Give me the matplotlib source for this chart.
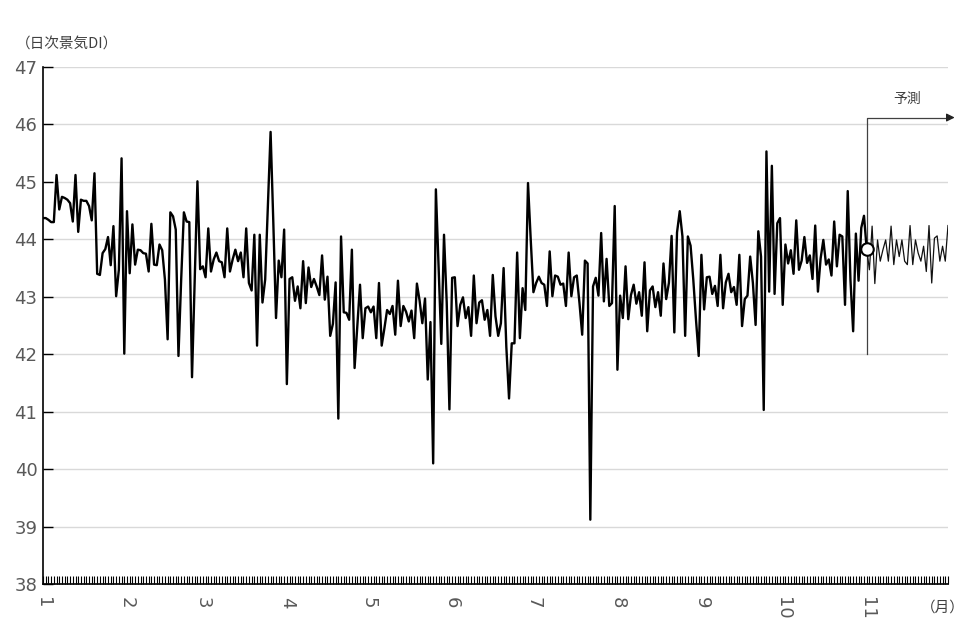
import matplotlib.pyplot as plt
import numpy as np

plt.rcParams['font.family'] = ['DejaVu Sans', 'Noto Sans CJK JP']

# daily DI, Jan 1 .. Nov 1 (actual)
jan = [44.37, 44.37, 44.34, 44.30, 44.30, 45.12, 44.52, 44.74, 44.72, 44.69,
       44.63, 44.31, 45.12, 44.13, 44.69, 44.67, 44.67, 44.58, 44.33, 45.15,
       43.40, 43.38, 43.76, 43.83, 44.04, 43.55, 44.23, 43.01, 43.47, 45.41, 42.01]
feb = [44.49, 43.41, 44.26, 43.56, 43.82, 43.81, 43.76, 43.75, 43.44, 44.27,
       43.56, 43.55, 43.91, 43.81, 43.30, 42.26, 44.47, 44.40, 44.17, 41.97,
       43.30, 44.47, 44.31, 44.30, 41.60, 43.30, 45.01, 43.48]
mar = [43.53, 43.34, 44.19, 43.44, 43.65, 43.77, 43.62, 43.60, 43.34, 44.19,
       43.44, 43.65, 43.82, 43.62, 43.77, 43.34, 44.19, 43.24, 43.11, 44.08,
       42.15, 44.08, 42.90, 43.30, 44.60, 45.87, 44.30, 42.63, 43.63, 43.34, 44.17]
apr = [41.48, 43.31, 43.34, 42.93, 43.18, 42.80, 43.62, 42.89, 43.51, 43.17,
       43.31, 43.18, 43.03, 43.72, 42.95, 43.35, 42.32, 42.53, 43.25, 40.88,
       44.05, 42.73, 42.72, 42.60, 43.82, 41.76, 42.50, 43.21, 42.28, 42.80]
may = [42.83, 42.73, 42.83, 42.28, 43.24, 42.15, 42.45, 42.77, 42.70, 42.84,
       42.34, 43.28, 42.49, 42.84, 42.74, 42.57, 42.76, 42.28, 43.23, 42.93,
       42.54, 42.97, 41.56, 42.56, 40.10, 44.87, 43.50, 42.18, 44.08, 42.90, 41.04]
jun = [43.33, 43.34, 42.49, 42.86, 42.99, 42.63, 42.82, 42.32, 43.37, 42.54,
       42.90, 42.94, 42.60, 42.77, 42.32, 43.38, 42.66, 42.32, 42.54, 43.50,
       42.13, 41.23, 42.19, 42.19, 43.77, 42.28, 43.15, 42.77, 44.98, 44.00]
jul = [43.08, 43.24, 43.35, 43.24, 43.21, 42.84, 43.79, 43.01, 43.37, 43.35,
       43.21, 43.23, 42.84, 43.77, 43.01, 43.34, 43.37, 42.89, 42.34, 43.63,
       43.58, 39.12, 43.18, 43.33, 43.02, 44.11, 42.92, 43.66, 42.84, 42.89, 44.58]
aug = [41.73, 43.02, 42.63, 43.53, 42.61, 43.03, 43.21, 42.88, 43.08, 42.67,
       43.60, 42.40, 43.11, 43.18, 42.82, 43.08, 42.67, 43.58, 42.96, 43.24,
       44.06, 42.38, 44.12, 44.49, 44.05, 42.32, 44.05, 43.89, 43.30, 42.60, 41.97]
sep = [43.73, 42.78, 43.34, 43.35, 43.05, 43.19, 42.84, 43.73, 42.80, 43.25,
       43.40, 43.08, 43.17, 42.86, 43.73, 42.49, 42.96, 43.02, 43.70, 43.24,
       42.51, 44.14, 43.70, 41.03, 45.53, 43.09, 45.28, 43.05, 44.28, 44.37]
oct_ = [42.86, 43.91, 43.58, 43.81, 43.40, 44.33, 43.47, 43.63, 44.04, 43.59,
        43.72, 43.31, 44.24, 43.09, 43.67, 43.99, 43.56, 43.65, 43.37, 44.31,
        43.53, 44.08, 44.05, 42.86, 44.84, 43.30, 42.40, 44.10, 43.28, 44.20, 44.41]
nov1 = [43.83]

# forecast, Nov 1 onward
forecast = [43.83, 43.47, 44.23, 43.23, 43.99, 43.62, 43.82, 43.99, 43.62, 44.23,
            43.56, 43.99, 43.70, 43.99, 43.62, 43.56, 44.24, 43.56, 43.99, 43.76,
            43.62, 43.88, 43.44, 44.24, 43.24, 44.02, 44.06, 43.62, 43.88, 43.62, 44.24]

month_labels = ['1', '2', '3', '4', '5', '6', '7', '8', '9', '10', '11']
month_days = [31, 28, 31, 30, 31, 30, 31, 31, 30, 31]

actual = jan + feb + mar + apr + may + jun + jul + aug + sep + oct_ + nov1
x_act = np.arange(len(actual))
start_fc = len(actual) - 1
x_fc = np.arange(start_fc, start_fc + len(forecast))
month_pos = np.concatenate([[0], np.cumsum(month_days)])

fig = plt.figure(figsize=(9.77, 6.38), dpi=100)
ax = fig.add_axes([0.044, 0.0846, 0.9263, 0.8104])

ax.plot(x_act, actual, color='black', lw=1.7, zorder=3)
ax.plot(x_fc, forecast, color='#111111', lw=0.9, zorder=3)
ax.plot([start_fc], [actual[-1]], 'o', ms=9, mfc='white', mec='black', mew=1.5, zorder=4)

ax.set_xlim(0, x_fc[-1])
ax.set_ylim(38, 47)
ax.set_yticks(range(38, 48))
ax.grid(axis='y', color='#d9d9d9', lw=1)
ax.set_axisbelow(True)
for s in ['top', 'right']:
    ax.spines[s].set_visible(False)
ax.spines['left'].set_linewidth(1.2)
ax.spines['bottom'].set_linewidth(1.2)

ax.set_xticks(month_pos)
ax.set_xticklabels(month_labels, rotation=-90, fontsize=13, color='#595959')
ax.set_xticks(np.arange(0, x_fc[-1] + 1), minor=True)
ax.tick_params(axis='x', which='both', direction='in', length=6, width=0.8, pad=9)
ax.tick_params(axis='y', direction='in', length=7, width=1, labelsize=13,
               labelcolor='#595959', pad=4)

# forecast marker: vertical line + arrow
ax.plot([start_fc, start_fc, start_fc + 30], [42.0, 46.12, 46.12],
        color='#404040', lw=0.9, clip_on=False)
ax.annotate('', xy=(start_fc + 33.5, 46.12), xytext=(start_fc + 29, 46.12),
            arrowprops=dict(arrowstyle='-|>', color='#222222', lw=0.9,
                            mutation_scale=12), annotation_clip=False)
ax.text(start_fc + 15, 46.45, '予測', fontsize=10, color='#404040',
        family=['Noto Sans CJK JP'], ha='center', va='center')

fig.text(0.016, 0.93, '（日次景気DI）', fontsize=10.5, color='#404040',
         family=['Noto Sans CJK JP'], ha='left', va='center')
fig.text(0.965, 0.048, '（月）', fontsize=10.5, color='#404040',
         family=['Noto Sans CJK JP'], ha='center', va='center')

fig.savefig('out.png', dpi=100)
